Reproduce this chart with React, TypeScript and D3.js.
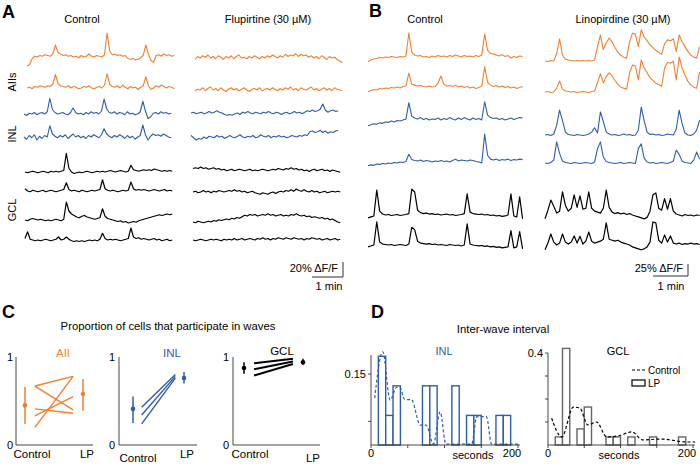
import React from "react";
import * as d3 from "d3";

const ORANGE = "#F37F2E";
const BLUE = "#2F5DA9";
const FONT = "Liberation Sans, Arial, Helvetica, sans-serif";

// ---------- Panel A traces (ΔF/F %, 5 s sampling) ----------
const A_CTRL_ORANGE_1 = [-12,-10,-2,1,0,2,1,3,2,1,4,16,6,4,2,3,1,2,0,1,-1,2,0,1,4,1,0,2,1,0,3,32,8,3,4,2,3,1,2,-2,-3,-2,-4,-3,-1,2,16,4,-5,-7,2,3,1,4,2,3,1,2];
const A_CTRL_ORANGE_2 = [0,1,-1,2,1,3,2,1,3,2,5,18,6,3,2,1,3,0,2,1,-1,0,2,1,3,0,-1,1,2,0,4,19,5,2,1,3,0,4,1,-1,2,0,1,-2,1,3,15,3,-2,0,3,1,4,2,0,2,1,-1];
const A_CTRL_BLUE_1 = [0,-2,1,0,2,-1,1,2,0,3,21,6,2,0,1,2,0,-1,2,8,2,0,1,-1,2,0,3,1,2,0,4,20,7,2,1,3,0,2,1,-1,3,0,1,-1,0,3,17,4,-6,-4,1,2,0,3,1,2,0,1];
const A_CTRL_BLUE_2 = [0,-3,2,-1,3,-4,1,-2,2,0,15,4,1,-1,2,0,3,-2,1,4,0,2,-1,1,-2,2,0,3,1,-1,3,11,4,1,-1,2,0,3,1,-2,2,-1,1,-3,0,2,16,3,-4,1,4,2,3,1,4,2,0,-1];
const A_CTRL_GCL_1 = [0,-1,0,1,0,-1,0,1,0,-1,1,0,1,0,1,2,25,5,0,-2,-1,0,-1,0,1,0,-1,0,1,0,1,0,1,2,1,0,1,2,1,0,1,9,3,2,1,2,3,2,3,2,4,3,2,1,2,1,2,1];
const A_CTRL_GCL_2 = [3,0,-1,1,0,-1,0,1,-1,0,1,0,-1,0,1,2,11,2,0,1,0,-1,1,0,-1,0,1,0,1,2,15,3,1,0,1,0,-1,0,1,0,1,12,3,1,2,1,2,1,0,1,2,1,0,1,2,0,1,0];
const A_CTRL_GCL_3 = [0,-1,1,2,1,0,1,0,-1,0,-1,0,1,0,-1,1,24,12,8,6,4,3,5,6,4,3,2,1,2,3,15,5,2,1,0,-1,-2,-1,-3,-2,-4,-3,-2,-3,-1,0,1,2,3,4,5,6,7,6,7,8,7,8];
const A_CTRL_GCL_4 = [2,11,1,0,-1,0,-1,0,1,0,-1,0,1,4,0,1,4,1,-1,-2,-1,-2,-1,-2,-1,0,-1,0,-1,1,9,2,0,1,0,1,0,-1,0,1,2,16,4,2,3,1,2,1,0,1,2,0,1,-1,0,1,-1,0];
const A_FLU_ORANGE_1 = [-2,2,0,3,1,4,0,2,-1,3,1,-2,2,0,3,-1,2,4,0,1,-1,2,0,3,1,-1,2,0,3,1,4,2,0,3,1,5,2,4,3,6,2,5,3,4,1,3,0,2,-1,3,1,-2,2,0,1,-2,-4,-6];
const A_FLU_ORANGE_2 = [-1,1,0,3,-1,2,4,0,2,-1,3,0,-2,1,3,0,2,-1,1,3,0,-2,1,2,0,3,-1,1,2,0,3,1,-1,2,0,3,1,4,0,2,-1,3,1,0,2,4,0,2,-1,1,3,0,2,-1,3,1,0,-1];
const A_FLU_BLUE_1 = [0,1,-1,0,1,-1,0,2,0,1,3,1,0,-2,-3,-2,-3,-1,0,-2,1,0,2,0,-1,1,0,-1,1,0,2,0,-1,1,0,-2,0,1,-1,0,2,0,1,-1,1,3,2,4,2,3,5,12,4,1,3,4,2,3];
const A_FLU_BLUE_2 = [2,-1,-4,-2,-3,0,-2,1,0,-1,2,0,1,-2,0,2,0,-1,1,3,0,-1,1,0,2,-1,0,3,1,0,2,-1,1,0,2,0,1,-1,0,2,1,0,2,1,3,2,7,8,6,7,9,6,8,5,7,6,8,9];
const A_FLU_GCL_1 = [2,3,2,4,2,3,1,2,3,1,2,0,1,-1,0,1,-1,0,1,0,-1,0,1,-1,0,-1,0,1,0,-1,0,1,0,2,1,0,2,1,3,1,2,0,1,-1,0,-2,0,1,-1,0,1,-1,0,-2,0,-1,-2,-3];
const A_FLU_GCL_2 = [0,1,-1,0,2,0,1,-1,1,0,2,1,0,1,2,1,3,1,2,0,1,-1,0,1,-1,-2,-3,-1,-2,-3,-1,0,-2,0,1,0,2,1,3,1,4,2,1,3,1,0,2,0,1,-1,0,1,-1,0,1,0,1,0];
const A_FLU_GCL_3 = [0,-1,1,0,-1,0,1,0,2,1,3,2,3,4,3,5,4,6,5,7,9,8,10,9,10,8,9,10,9,11,9,10,8,9,10,8,9,8,10,9,11,9,8,9,7,8,6,7,6,5,6,4,5,3,4,2,0,-1];
const A_FLU_GCL_4 = [0,-1,0,1,0,-1,0,1,0,1,0,-1,1,0,1,0,2,0,1,2,0,1,2,1,0,2,1,3,1,2,0,2,1,3,2,1,3,2,1,3,2,1,2,0,2,1,3,2,1,2,0,1,2,0,1,2,0,1];

// ---------- Panel B traces ----------
const B_CTRL_ORANGE_1 = [-10,-6,-4,-3,-1,-2,0,-1,1,0,-1,1,0,2,50,10,4,2,3,0,1,-1,2,0,3,1,2,0,3,1,4,2,0,3,1,2,0,3,1,4,48,14,8,6,4,2,5,1,3,-2,1,-1,2,1];
const B_CTRL_ORANGE_2 = [-8,-5,-3,-4,-1,-2,0,-1,1,0,2,0,3,4,31,8,6,4,5,3,2,4,2,3,10,25,8,4,5,3,6,2,4,1,3,0,2,-1,1,4,44,12,6,3,5,2,4,1,3,0,2,-1,1,3];
const B_CTRL_BLUE_1 = [-12,-10,-8,-9,-6,-7,-4,-5,-2,-4,-1,-2,0,2,36,8,4,2,5,1,3,0,2,1,4,0,3,1,5,2,0,4,1,5,2,0,4,1,3,0,38,10,5,3,4,1,3,0,2,4,1,3,5,4];
const B_CTRL_BLUE_2 = [-8,-6,-7,-4,-5,-3,-4,-2,-3,-1,-2,0,-1,1,16,5,3,2,4,1,3,2,0,2,1,3,1,2,0,3,6,2,4,3,2,4,3,1,0,-2,58,14,6,4,6,3,5,4,6,3,5,4,6,5];
const B_CTRL_GCL_1 = [-6,-4,-2,52,8,2,0,1,-1,0,1,-1,0,1,3,54,48,10,5,3,4,2,3,1,2,0,1,2,0,1,-1,0,1,3,44,6,3,2,1,2,0,1,-1,0,-2,-1,-3,-2,0,44,-2,-4,38,-8];
const B_CTRL_GCL_2 = [-4,-2,0,48,6,2,1,0,1,-1,0,1,0,-1,2,37,32,8,4,3,2,3,1,2,0,1,0,-1,1,0,-1,0,-2,0,44,2,0,-1,-2,-1,-3,-2,-4,-3,-5,-4,-6,-5,-4,30,-6,-4,28,-8];
const B_LINO_ORANGE_1 = [0,-1,1,0,15,46,12,4,2,1,0,1,0,1,0,1,0,2,30,54,24,38,48,40,28,18,12,8,6,40,58,56,30,65,50,42,34,28,22,18,14,36,44,42,46,20,54,40,30,20,12,8,6,30];
const B_LINO_ORANGE_2 = [0,1,-1,0,8,23,6,2,1,0,1,-1,0,1,0,-1,1,2,20,38,19,32,40,34,24,16,10,8,6,40,56,54,25,67,50,40,30,24,18,15,12,50,62,60,64,25,73,50,35,22,15,10,8,42];
const B_LINO_BLUE_1 = [0,1,-1,2,20,52,30,6,1,0,-1,1,0,-1,0,2,6,15,4,48,28,6,2,0,1,-1,0,2,0,1,-1,0,10,58,30,6,1,2,0,1,-1,0,2,1,0,12,52,24,4,0,-1,2,10,31];
const B_LINO_BLUE_2 = [0,-1,1,6,44,20,4,1,0,-1,1,0,-1,0,1,0,-1,2,30,44,12,3,1,0,-1,0,1,-1,0,1,0,-1,30,40,10,2,0,1,-1,0,1,0,-1,1,4,27,18,4,1,0,-1,6,23,8];
const B_LINO_GCL_1 = [-8,10,31,18,4,8,48,20,8,14,42,16,40,12,14,48,14,8,6,4,14,52,16,6,3,5,2,4,1,3,0,-2,-4,-6,-8,-5,8,42,46,14,10,34,12,34,8,2,0,-2,1,-1,0,-2,0,-1];
const B_LINO_GCL_2 = [-10,4,23,6,0,4,23,6,2,6,19,4,18,2,8,27,8,4,6,8,12,46,12,10,8,10,6,4,2,0,-4,-6,-8,-10,-8,-4,6,48,46,10,4,21,6,19,4,2,4,1,3,2,4,2,3,1];

// ---------- Panel C ----------
const C_AII_CONTROL = [0.67, 0.67, 0.41, 0.33, 0.2];
const C_AII_LP = [0.78, 0.4, 0.36, 0.55, 0.78];
const C_AII_MEAN = [0.45, 0.58];
const C_AII_LOW = [0.24, 0.39];
const C_AII_HIGH = [0.66, 0.75];
const C_INL_CONTROL = [0.43, 0.34, 0.24];
const C_INL_LP = [0.8, 0.78, 0.76];
const C_INL_MEAN = [0.41, 0.76];
const C_INL_LOW = [0.25, 0.7];
const C_INL_HIGH = [0.55, 0.83];
const C_GCL_CONTROL = [0.93, 0.86, 0.79];
const C_GCL_LP = [0.98, 0.95, 0.92];
const C_GCL_MEAN = [0.875, 0.94];
const C_GCL_LOW = [0.81, 0.91];
const C_GCL_HIGH = [0.94, 0.98];

// ---------- Panel D ----------
const D_INL_BIN_START = [10, 20, 30, 70, 80, 110, 130, 140, 170, 180];
const D_INL_LP = [0.1875, 0.0625, 0.125, 0.125, 0.125, 0.125, 0.0625, 0.0625, 0.0625, 0.0625];
const D_INL_CTRL_T = [5, 16, 26, 35, 39, 46, 55, 67, 75, 85, 94, 102, 137, 144, 157, 164, 203];
const D_INL_CTRL_V = [0.099, 0.197, 0.095, 0.122, 0.122, 0.096, 0.096, 0.042, 0.042, 0.002, 0.07, 0.002, 0.002, 0.06, 0.06, 0.002, 0.002];
const D_GCL_BIN_START = [10, 20, 40, 50, 80, 90, 110, 140, 180];
const D_GCL_LP = [0.035, 0.42, 0.07, 0.165, 0.035, 0.035, 0.035, 0.035, 0.035];
const D_GCL_CTRL_T = [5, 19, 35, 44, 55, 67, 81, 97, 116, 130, 155, 192, 203];
const D_GCL_CTRL_V = [0.117, 0.035, 0.165, 0.16, 0.087, 0.1, 0.035, 0.04, 0.057, 0.022, 0.026, 0.013, 0.013];
const D_X_TICKS = [0, 50, 100, 150, 200];

const DT = 5;

// scales for panel A and B (time -> px, % -> px)
const A_TIME = d3.scaleLinear().domain([0, 60]).range([0, 31]);
const A_AMP = d3.scaleLinear().domain([0, 20]).range([0, 15]);
const B_TIME = d3.scaleLinear().domain([0, 60]).range([0, 35]);
const B_AMP = d3.scaleLinear().domain([0, 25]).range([0, 12]);

type Trace = { data: number[]; x0: number; y0: number; color: string; w: number };

const A_TRACES: Trace[] = [
  { data: A_CTRL_ORANGE_1, x0: 27, y0: 57, color: ORANGE, w: 1.1 },
  { data: A_CTRL_ORANGE_2, x0: 27, y0: 88, color: ORANGE, w: 1.1 },
  { data: A_CTRL_BLUE_1, x0: 24, y0: 114, color: BLUE, w: 1.1 },
  { data: A_CTRL_BLUE_2, x0: 24, y0: 137, color: BLUE, w: 1.1 },
  { data: A_CTRL_GCL_1, x0: 25, y0: 172, color: "#000", w: 1.2 },
  { data: A_CTRL_GCL_2, x0: 25, y0: 191, color: "#000", w: 1.2 },
  { data: A_CTRL_GCL_3, x0: 25, y0: 220, color: "#000", w: 1.2 },
  { data: A_CTRL_GCL_4, x0: 25, y0: 240, color: "#000", w: 1.2 },
  { data: A_FLU_ORANGE_1, x0: 195, y0: 58, color: ORANGE, w: 1.1 },
  { data: A_FLU_ORANGE_2, x0: 195, y0: 90, color: ORANGE, w: 1.1 },
  { data: A_FLU_BLUE_1, x0: 191, y0: 113, color: BLUE, w: 1.1 },
  { data: A_FLU_BLUE_2, x0: 191, y0: 137, color: BLUE, w: 1.1 },
  { data: A_FLU_GCL_1, x0: 193, y0: 170, color: "#000", w: 1.2 },
  { data: A_FLU_GCL_2, x0: 193, y0: 192, color: "#000", w: 1.2 },
  { data: A_FLU_GCL_3, x0: 193, y0: 222, color: "#000", w: 1.2 },
  { data: A_FLU_GCL_4, x0: 193, y0: 240, color: "#000", w: 1.2 },
];

const B_TRACES: Trace[] = [
  { data: B_CTRL_ORANGE_1, x0: 368, y0: 57, color: ORANGE, w: 1.1 },
  { data: B_CTRL_ORANGE_2, x0: 368, y0: 88, color: ORANGE, w: 1.1 },
  { data: B_CTRL_BLUE_1, x0: 368, y0: 120, color: BLUE, w: 1.1 },
  { data: B_CTRL_BLUE_2, x0: 368, y0: 162, color: BLUE, w: 1.1 },
  { data: B_CTRL_GCL_1, x0: 368, y0: 215, color: "#000", w: 1.2 },
  { data: B_CTRL_GCL_2, x0: 368, y0: 245, color: "#000", w: 1.2 },
  { data: B_LINO_ORANGE_1, x0: 545, y0: 61, color: ORANGE, w: 1.1 },
  { data: B_LINO_ORANGE_2, x0: 545, y0: 92, color: ORANGE, w: 1.1 },
  { data: B_LINO_BLUE_1, x0: 545, y0: 135, color: BLUE, w: 1.1 },
  { data: B_LINO_BLUE_2, x0: 545, y0: 163, color: BLUE, w: 1.1 },
  { data: B_LINO_GCL_1, x0: 545, y0: 215, color: "#000", w: 1.2 },
  { data: B_LINO_GCL_2, x0: 545, y0: 245, color: "#000", w: 1.2 },
];

function tracePath(t: Trace, time: d3.ScaleLinear<number, number>, amp: d3.ScaleLinear<number, number>) {
  const line = d3
    .line<number>()
    .x((_, i) => t.x0 + time(i * DT))
    .y((d) => t.y0 - amp(d));
  return line(t.data) || "";
}

function Txt(props: any) {
  const { children, ...rest } = props;
  return (
    <text fontFamily={FONT} fontSize={11} fill="#000" {...rest}>
      {children}
    </text>
  );
}

type CSub = {
  axisX: number;
  axisEnd: number;
  meanX: [number, number];
  ctrl: number[];
  lp: number[];
  mean: number[];
  low: number[];
  high: number[];
  color: string;
  lw: number;
  label: string;
  labelX: number;
  labelY: number;
  tickX: number;
  ctrlLabel: [number, number];
  lpLabel: [number, number];
};

const C_Y = d3.scaleLinear().domain([0, 1]).range([445, 357]);

function CPanel({ s }: { s: CSub }) {
  const x = d3.scaleLinear().domain([0, 1]).range(s.meanX);
  return (
    <g>
      <line x1={s.axisX} x2={s.axisX} y1={C_Y(1)} y2={C_Y(0)} stroke="#333" strokeWidth={0.9} />
      <line x1={s.axisX} x2={s.axisEnd} y1={C_Y(0)} y2={C_Y(0)} stroke="#333" strokeWidth={0.9} />
      <Txt x={s.tickX} y={C_Y(1) + 4} textAnchor="end">1</Txt>
      <Txt x={s.tickX} y={C_Y(0) + 4} textAnchor="end">0</Txt>
      <Txt x={s.ctrlLabel[0]} y={s.ctrlLabel[1]} textAnchor="middle" fontSize={11.5}>Control</Txt>
      <Txt x={s.lpLabel[0]} y={s.lpLabel[1]} textAnchor="middle" fontSize={11.5}>LP</Txt>
      <Txt x={s.labelX} y={s.labelY} textAnchor="middle" fill={s.color} fontSize={11.5}>{s.label}</Txt>
      {s.ctrl.map((v, i) => (
        <line key={i} x1={x(0.17)} x2={x(0.83)} y1={C_Y(v)} y2={C_Y(s.lp[i])} stroke={s.color} strokeWidth={s.lw} />
      ))}
      {s.mean.map((m, i) => (
        <g key={"m" + i}>
          <line x1={x(i)} x2={x(i)} y1={C_Y(s.low[i])} y2={C_Y(s.high[i])} stroke={s.color} strokeWidth={1.5} />
          <circle cx={x(i)} cy={C_Y(m)} r={2.3} fill={s.color} />
        </g>
      ))}
    </g>
  );
}

const C_SUBS: CSub[] = [
  { axisX: 16, axisEnd: 93, meanX: [25, 83], ctrl: C_AII_CONTROL, lp: C_AII_LP, mean: C_AII_MEAN, low: C_AII_LOW, high: C_AII_HIGH, color: ORANGE, lw: 1.4, label: "AII", labelX: 63, labelY: 357, tickX: 13, ctrlLabel: [32, 458], lpLabel: [87, 458] },
  { axisX: 119, axisEnd: 197, meanX: [133, 184], ctrl: C_INL_CONTROL, lp: C_INL_LP, mean: C_INL_MEAN, low: C_INL_LOW, high: C_INL_HIGH, color: BLUE, lw: 1.4, label: "INL", labelX: 172, labelY: 357, tickX: 115, ctrlLabel: [138, 462], lpLabel: [187, 458] },
  { axisX: 233, axisEnd: 320, meanX: [244, 303], ctrl: C_GCL_CONTROL, lp: C_GCL_LP, mean: C_GCL_MEAN, low: C_GCL_LOW, high: C_GCL_HIGH, color: "#000", lw: 2, label: "GCL", labelX: 282, labelY: 355, tickX: 229, ctrlLabel: [250, 458], lpLabel: [313, 462] },
];

function DPanel(props: {
  x: d3.ScaleLinear<number, number>;
  y: d3.ScaleLinear<number, number>;
  yTicks: number[];
  yLabel: string;
  yLabelVal: number;
  top: number;
  bins: number[];
  vals: number[];
  ct: number[];
  cv: number[];
  color: string;
  barStroke: string;
  label: string;
  labelColor: string;
  labelX: number;
  secondsX: number;
  label200X: number;
}) {
  const { x, y } = props;
  const pts = props.ct.map((t, i) => [x(t), y(props.cv[i])] as [number, number]);
  const path = d3.line().curve(d3.curveMonotoneX)(pts) || "";
  const x0 = x(0);
  const y0 = y(0);
  return (
    <g>
      {props.bins.map((b, i) => (
        <rect key={i} x={x(b)} width={x(b + 10) - x(b)} y={y(props.vals[i])} height={y0 - y(props.vals[i])} fill="#fff" stroke={props.barStroke} strokeWidth={1.4} />
      ))}
      <path d={path} fill="none" stroke={props.color} strokeWidth={1.2} strokeDasharray="3,2.2" />
      <line x1={x0} x2={x0} y1={props.top} y2={y0} stroke="#333" strokeWidth={0.9} />
      <line x1={x0} x2={x(200) + 2} y1={y0} y2={y0} stroke="#333" strokeWidth={0.9} />
      {D_X_TICKS.map((t) => (
        <line key={t} x1={x(t)} x2={x(t)} y1={y0} y2={y0 + 3} stroke="#333" strokeWidth={0.9} />
      ))}
      {props.yTicks.map((t) => (
        <line key={t} x1={x0 - 3} x2={x0} y1={y(t)} y2={y(t)} stroke="#333" strokeWidth={0.9} />
      ))}
      <Txt x={x0 - 5} y={y(props.yLabelVal) + 4} textAnchor="end">{props.yLabel}</Txt>
      <Txt x={x0} y={457} textAnchor="middle">0</Txt>
      <Txt x={props.label200X} y={457} textAnchor="middle">200</Txt>
      <Txt x={props.secondsX} y={459} textAnchor="middle">seconds</Txt>
      <Txt x={props.labelX} y={355} textAnchor="middle" fill={props.labelColor}>{props.label}</Txt>
    </g>
  );
}

export default function App() {
  const dInlX = d3.scaleLinear().domain([0, 200]).range([371, 518]);
  const dInlY = d3.scaleLinear().domain([0, 0.15]).range([445, 374]);
  const dGclX = d3.scaleLinear().domain([0, 200]).range([548, 693]);
  const dGclY = d3.scaleLinear().domain([0, 0.4]).range([445, 353]);

  return (
    <svg
      width={700}
      height={465}
      viewBox="0 0 700 465"
      style={{ position: "absolute", left: 0, top: 0, background: "#fff" }}
    >
      <rect x={0} y={0} width={700} height={465} fill="#fff" />
      {/* Panel labels */}
      <Txt x={2} y={18} fontSize={18} fontWeight="bold">A</Txt>
      <Txt x={369} y={17} fontSize={18} fontWeight="bold">B</Txt>
      <Txt x={2} y={318} fontSize={18} fontWeight="bold">C</Txt>
      <Txt x={371} y={318} fontSize={18} fontWeight="bold">D</Txt>

      {/* Panel A */}
      <Txt x={82} y={23} textAnchor="middle">Control</Txt>
      <Txt x={268} y={23} textAnchor="middle">Flupirtine (30 µM)</Txt>
      <Txt transform="translate(16,82) rotate(-90)" textAnchor="middle">AIIs</Txt>
      <Txt transform="translate(16,134) rotate(-90)" textAnchor="middle">INL</Txt>
      <Txt transform="translate(16,210) rotate(-90)" textAnchor="middle">GCL</Txt>
      {A_TRACES.map((t, i) => (
        <path key={"a" + i} d={tracePath(t, A_TIME, A_AMP)} fill="none" stroke={t.color} strokeWidth={t.w} strokeLinejoin="round" />
      ))}
      <path
        d={`M${343 - A_TIME(60)},277H343V${277 - A_AMP(20)}`}
        fill="none"
        stroke="#333"
        strokeWidth={1}
      />
      <Txt x={338} y={272} textAnchor="end">20% ΔF/F</Txt>
      <Txt x={329} y={290} textAnchor="middle">1 min</Txt>

      {/* Panel B */}
      <Txt x={425} y={23} textAnchor="middle">Control</Txt>
      <Txt x={623} y={23} textAnchor="middle">Linopirdine (30 µM)</Txt>
      {B_TRACES.map((t, i) => (
        <path key={"b" + i} d={tracePath(t, B_TIME, B_AMP)} fill="none" stroke={t.color} strokeWidth={t.w} strokeLinejoin="round" />
      ))}
      <path
        d={`M${688 - B_TIME(60)},276H688V${276 - B_AMP(25)}`}
        fill="none"
        stroke="#333"
        strokeWidth={1}
      />
      <Txt x={683} y={272} textAnchor="end">25% ΔF/F</Txt>
      <Txt x={671} y={290} textAnchor="middle">1 min</Txt>

      {/* Panel C */}
      <Txt x={168} y={330} textAnchor="middle" fontSize={11.3}>Proportion of cells that participate in waves</Txt>
      {C_SUBS.map((s, i) => (
        <CPanel key={i} s={s} />
      ))}

      {/* Panel D */}
      <Txt x={503} y={333} textAnchor="middle" fontSize={11.3}>Inter-wave interval</Txt>
      <DPanel
        x={dInlX}
        y={dInlY}
        yTicks={[0.05, 0.15]}
        yLabel="0.15"
        yLabelVal={0.15}
        top={355}
        bins={D_INL_BIN_START}
        vals={D_INL_LP}
        ct={D_INL_CTRL_T}
        cv={D_INL_CTRL_V}
        color={BLUE}
        barStroke={BLUE}
        label="INL"
        labelColor={BLUE}
        labelX={444}
        secondsX={473}
        label200X={512}
      />
      <DPanel
        x={dGclX}
        y={dGclY}
        yTicks={[0.1, 0.2, 0.3, 0.4]}
        yLabel="0.4"
        yLabelVal={0.4}
        top={353}
        bins={D_GCL_BIN_START}
        vals={D_GCL_LP}
        ct={D_GCL_CTRL_T}
        cv={D_GCL_CTRL_V}
        color="#000"
        barStroke="#666"
        label="GCL"
        labelColor="#000"
        labelX={618}
        secondsX={619}
        label200X={687}
      />
      {/* legend */}
      <line x1={632} x2={645} y1={370} y2={370} stroke="#000" strokeWidth={1.2} strokeDasharray="3,2" />
      <Txt x={648} y={374} fontSize={10}>Control</Txt>
      <rect x={632} y={380} width={13} height={6} fill="#fff" stroke="#000" strokeWidth={1.2} />
      <Txt x={648} y={387} fontSize={10}>LP</Txt>
    </svg>
  );
}
